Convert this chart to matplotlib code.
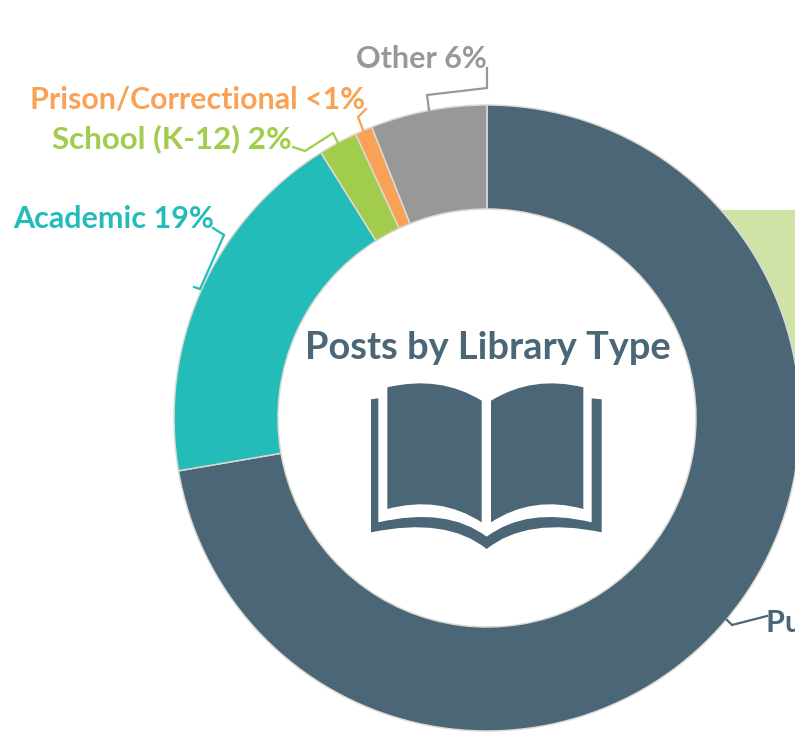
import matplotlib
matplotlib.use("Agg")
import matplotlib.pyplot as plt
from matplotlib.path import Path
from matplotlib.patches import PathPatch, Rectangle

plt.rcParams['font.family'] = ['Lato', 'DejaVu Sans']

categories = ["Public", "Academic", "School (K-12)", "Prison/Correctional", "Other"]
shares = [72.3, 18.8, 2.0, 0.9, 6.0]
labels = ["Public 72%", "Academic 19%", "School (K-12) 2%", "Prison/Correctional <1%", "Other 6%"]
colors = ["#4a6677", "#23bcb9", "#a1cc4c", "#f9a154", "#989898"]
title = "Posts by Library Type"

W, H = 795, 738
CX, CY, R_OUT, R_IN = 487, 418, 313, 209
DARK = "#4a6677"


def Y(y):
    return H - y


fig = plt.figure(figsize=(W / 100, H / 100), dpi=100, facecolor="white")
ax = fig.add_axes([0, 0, 1, 1])

ax.add_patch(Rectangle((722, Y(418)), 80, 418 - 210, facecolor="#cfe3a6", edgecolor="none", zorder=0))

ax.pie(shares, colors=colors, startangle=90, counterclock=False, center=(CX, Y(CY)),
       radius=R_OUT, frame=True,
       wedgeprops=dict(width=R_OUT - R_IN, edgecolor="#dcdad2", linewidth=1.1, zorder=2))
ax.set_xlim(0, W)
ax.set_ylim(0, H)
ax.set_aspect("equal")
ax.axis("off")

label_pos = [(766, 623, "left", 22), (214, 219, "right", 22), (292, 139, "right", 22.6),
             (365, 99, "right", 21.9), (487, 59, "right", 22)]
leaders = [
    [(727, 620), (732, 625), (767, 616)],
    [(213, 228), (224, 235), (200, 289), (194, 287)],
    [(293, 147), (305, 151), (333, 133), (338, 143)],
    [(366, 109), (358, 117), (363, 130)],
    [(487, 68), (487, 88), (427, 95), (429, 110)],
]
for lab, col, (x, y, ha, fs), pts in zip(labels, colors, label_pos, leaders):
    ax.text(x, Y(y), lab, color=col, fontsize=fs, fontweight="bold", ha=ha, va="center", zorder=5)
    ax.plot([p[0] for p in pts], [Y(p[1]) for p in pts], color=col, lw=1.6, zorder=4,
            solid_joinstyle="miter")

ax.text(488, Y(348), title, color=DARK, fontsize=27.4, fontweight="bold", ha="center", va="center", zorder=5)


def zoomed(p):
    return (340 + p[0] / 3, Y(360 + p[1] / 3))


def shape(start, segs):
    verts, codes = [zoomed(start)], [Path.MOVETO]
    for s in segs:
        if len(s) == 2:
            verts.append(zoomed(s[0]))
            verts.append(zoomed(s[1]))
            codes += [Path.CURVE3, Path.CURVE3]
        else:
            verts.append(zoomed(s[0]))
            codes.append(Path.LINETO)
    verts.append(zoomed(start))
    codes.append(Path.CLOSEPOLY)
    return Path(verts, codes)


left_page = shape((142, 82), [((300, 45), (425, 122)), ((425, 487),), ((300, 405), (142, 447))])
right_page = shape((730, 82), [((578, 45), (453, 122)), ((453, 487),), ((578, 405), (730, 447))])
cover = shape((93, 118), [((115, 115),), ((115, 487),), ((320, 440), (440, 530)), ((560, 440), (755, 487)),
                          ((755, 115),), ((785, 118),), ((785, 517),), ((560, 470), (440, 567)),
                          ((320, 470), (93, 517))])
for p in (left_page, right_page, cover):
    ax.add_patch(PathPatch(p, facecolor=DARK, edgecolor="none", zorder=5))

fig.savefig("out.png", dpi=100, facecolor="white")
